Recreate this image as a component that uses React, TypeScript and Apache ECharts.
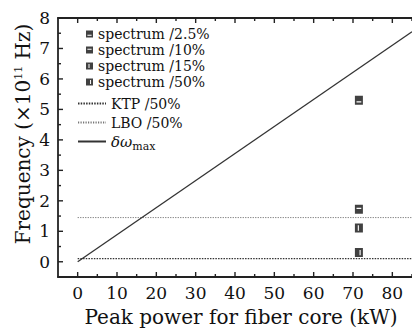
import React, { useEffect, useRef } from "react";
import * as echarts from "echarts";

const xLabelTicks = [0, 10, 20, 30, 40, 50, 60, 70, 80];
const xMinorTicks = [5, 15, 25, 35, 45, 55, 65, 75, 85];
const yLabelTicks = [0, 1, 2, 3, 4, 5, 6, 7, 8];
const yMinorTicks = [0.5, 1.5, 2.5, 3.5, 4.5, 5.5, 6.5, 7.5];

const spectrumNames = ["spectrum /2.5%", "spectrum /10%", "spectrum /15%", "spectrum /50%"];
const spectrumX = [71.5, 71.5, 71.5, 71.5];
const spectrumY = [5.3, 1.72, 1.11, 0.3];
const spectrumSymbols = [
  "path://M0,0L10,0L10,10L0,10Z M2,6.2L2,7.6L8,7.6L8,6.2Z",
  "path://M0,0L10,0L10,10L0,10Z M2,3.2L2,4.6L8,4.6L8,3.2Z",
  "path://M0,0L10,0L10,10L0,10Z M3.6,2L3.6,8L5,8L5,2Z",
  "path://M0,0L10,0L10,10L0,10Z M5.8,2L5.8,8L7.2,8L7.2,2Z",
];

const lineNames = ["KTP /50%", "LBO /50%", "δωmax"];
const lineX = [0, 85];
const ktpY = [0.1, 0.1];
const lboY = [1.45, 1.45];
const deltaOmegaY = [0, 7.55];

const FONT = "DejaVu Serif";
const TXT = "#111";
const AX = "#222";
const X_MIN = -5, X_MAX = 85, Y_MIN = -0.5, Y_MAX = 8;

export default function App() {
  const ref = useRef<HTMLDivElement>(null);
  useEffect(() => {
    document.body.style.margin = "0";
    const chart = echarts.init(ref.current!, null, { renderer: "svg" });
    const axisLine = () => ({ show: true, onZero: false, lineStyle: { color: AX, width: 1.8 } });
    const pair = (xs: number[], ys: number[]) => xs.map((x, i) => [x, ys[i]]);

    // tick marks drawn as thin rect symbols placed on the axis scales
    const tickSeries = (name: string, data: number[][], size: number[], offset: number[]) => ({
      name,
      type: "scatter",
      xAxisIndex: 0,
      yAxisIndex: 0,
      silent: true,
      clip: false,
      symbol: "rect",
      symbolSize: size,
      symbolOffset: offset,
      itemStyle: { color: AX, opacity: 1 },
      data,
      z: 3,
    });

    const option: any = {
      animation: false,
      grid: { left: 58, right: -5, top: 18, bottom: 48 },
      xAxis: [
        {
          type: "value",
          min: X_MIN,
          max: X_MAX,
          position: "bottom",
          axisLine: axisLine(),
          axisTick: { show: false },
          splitLine: { show: false },
          axisLabel: { customValues: xLabelTicks, fontFamily: FONT, fontSize: 17, color: TXT, margin: 7 },
          name: "Peak power for fiber core (kW)",
          nameLocation: "middle",
          nameGap: 30,
          nameTextStyle: { fontFamily: FONT, fontSize: 20, color: TXT, padding: [0, 0, 0, 12] },
        },
        {
          type: "value",
          min: X_MIN,
          max: X_MAX,
          position: "top",
          axisLine: axisLine(),
          axisTick: { show: false },
          splitLine: { show: false },
          axisLabel: { show: false },
        },
      ],
      yAxis: [
        {
          type: "value",
          min: Y_MIN,
          max: Y_MAX,
          position: "left",
          axisLine: axisLine(),
          axisTick: { show: false },
          splitLine: { show: false },
          axisLabel: { customValues: yLabelTicks, fontFamily: FONT, fontSize: 17, color: TXT, margin: 8 },
        },
      ],
      legend: [
        {
          orient: "vertical",
          left: 86,
          top: 26,
          itemWidth: 7,
          itemHeight: 7,
          itemGap: 0,
          padding: 0,
          data: spectrumNames.map((n, i) => ({ name: n, icon: spectrumSymbols[i] })),
          textStyle: { fontFamily: FONT, fontSize: 14, color: TXT, lineHeight: 16 },
        },
        {
          orient: "vertical",
          left: 77,
          top: 94,
          itemWidth: 28,
          itemHeight: 10,
          itemGap: 0,
          padding: 0,
          data: lineNames,
          formatter: (name: string) => (name === "δωmax" ? "{i|δω}{s|max}" : name),
          textStyle: {
            fontFamily: FONT,
            fontSize: 14,
            color: TXT,
            lineHeight: 19,
            rich: {
              i: { fontFamily: FONT, fontStyle: "italic", fontSize: 15, color: TXT },
              s: { fontFamily: FONT, fontSize: 11, color: TXT, padding: [9, 0, 0, 0] },
            },
          },
        },
      ],
      graphic: [
        {
          type: "text",
          x: 23,
          y: 134,
          rotation: Math.PI / 2,
          style: {
            text: "{a|Frequency (×10}{s|11}{a| Hz)}",
            align: "center",
            verticalAlign: "middle",
            rich: {
              a: { fontFamily: FONT, fontSize: 20, fill: TXT },
              s: { fontFamily: FONT, fontSize: 11, fill: TXT, padding: [0, 0, 10, 0] },
            },
          },
        },
      ],
      series: [
        tickSeries("xMajorBottom", xLabelTicks.map((v) => [v, Y_MIN]), [1.4, 5], [0, -2.5]),
        tickSeries("xMinorBottom", xMinorTicks.map((v) => [v, Y_MIN]), [1.4, 3], [0, -1.5]),
        tickSeries("xMajorTop", xLabelTicks.map((v) => [v, Y_MAX]), [1.4, 5], [0, 2.5]),
        tickSeries("xMinorTop", xMinorTicks.map((v) => [v, Y_MAX]), [1.4, 3], [0, 1.5]),
        tickSeries("yMajor", yLabelTicks.map((v) => [X_MIN, v]), [5, 1.4], [2.5, 0]),
        tickSeries("yMinor", yMinorTicks.map((v) => [X_MIN, v]), [3, 1.4], [1.5, 0]),
        ...spectrumNames.map((n, i) => ({
          name: n,
          type: "scatter",
          xAxisIndex: 0,
          yAxisIndex: 0,
          symbol: spectrumSymbols[i],
          symbolSize: [8, 9],
          itemStyle: { color: "#111" },
          data: [[spectrumX[i], spectrumY[i]]],
          z: 5,
        })),
        {
          name: "KTP /50%",
          type: "line",
          xAxisIndex: 0,
          yAxisIndex: 0,
          symbol: "none",
          itemStyle: { color: "rgba(0,0,0,0)", borderWidth: 0 },
          lineStyle: { color: "#333", width: 1.2, type: [1.5, 1.2] },
          data: pair(lineX, ktpY),
        },
        {
          name: "LBO /50%",
          type: "line",
          xAxisIndex: 0,
          yAxisIndex: 0,
          symbol: "none",
          itemStyle: { color: "rgba(0,0,0,0)", borderWidth: 0 },
          lineStyle: { color: "#777", width: 1, type: [1.2, 1.3] },
          data: pair(lineX, lboY),
        },
        {
          name: "δωmax",
          type: "line",
          xAxisIndex: 0,
          yAxisIndex: 0,
          symbol: "none",
          itemStyle: { color: "rgba(0,0,0,0)", borderWidth: 0 },
          lineStyle: { color: "#333", width: 1.3 },
          data: pair(lineX, deltaOmegaY),
        },
      ],
    };
    chart.setOption(option);
    return () => chart.dispose();
  }, []);
  return <div ref={ref} style={{ position: "fixed", left: 0, top: 0, width: 412, height: 332, background: "#fff" }} />;
}
